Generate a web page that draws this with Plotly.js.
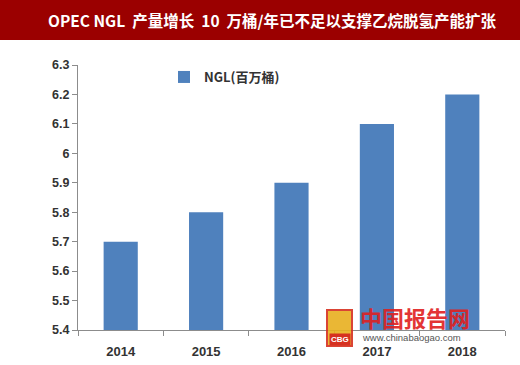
<!DOCTYPE html>
<html><head><meta charset="utf-8">
<script src="https://cdn.plot.ly/plotly-3.0.1.min.js"></script>
<style>body{margin:0;padding:0;background:#fff}#c{width:520px;height:365px}</style>
</head><body><div id="c"></div>
<script>
const years = ['2014','2015','2016','2017','2018'];
const ngl = [5.7, 5.8, 5.9, 6.1, 6.2];
const yTicks = [5.4,5.5,5.6,5.7,5.8,5.9,6,6.1,6.2,6.3];
const seriesName = 'NGL(百万桶)';
const titleText = 'OPEC NGL  产量增长  10  万桶/年已不足以支撑乙烷脱氢产能扩张';

const L=78, R=15, T=65, B=35, W=520, H=365;
const pw=W-L-R, ph=H-T-B;
const px = x => (x-L)/pw;
const py = y => (H-B-y)/ph;

const trace = {
  type:'bar', x:years, y:ngl, name:seriesName, width:0.4,
  marker:{color:'#4f81bd'}, showlegend:true
};
const layout = {
  width:W, height:H, margin:{l:L,r:R,t:T,b:B},
  paper_bgcolor:'#fff', plot_bgcolor:'#fff',
  font:{family:'"Noto Sans CJK SC", "Noto Sans", sans-serif', color:'#404040'},
  xaxis:{type:'category', showline:true, linecolor:'#8c8c8c', linewidth:1,
    ticks:'outside', tickson:'boundaries', ticklen:5, tickcolor:'#8c8c8c', ticklabelstandoff:9,
    tickfont:{size:13, family:'"Liberation Sans", Arial, sans-serif', color:'#333', weight:'bold'},
    showgrid:false, zeroline:false},
  yaxis:{range:[5.4,6.3], tickvals:yTicks, ticktext:yTicks.map(v=>String(v)),
    showline:true, linecolor:'#8c8c8c', linewidth:1, ticks:'outside', ticklen:5, tickcolor:'#8c8c8c',
    tickfont:{size:12.5, family:'"Liberation Sans", Arial, sans-serif', color:'#333', weight:'bold'},
    showgrid:false, zeroline:false},
  legend:{x:px(164), y:py(62), xanchor:'left', yanchor:'top', bgcolor:'rgba(0,0,0,0)',
    font:{size:13, color:'#333', family:'"Noto Sans CJK SC", sans-serif', weight:'bold'}, itemwidth:30},
  shapes:[
    {type:'rect', xref:'paper', yref:'paper', x0:px(0), x1:px(W), y0:py(40), y1:py(0),
     fillcolor:'#9b0000', line:{width:0}, layer:'below'},
    {type:'rect', xref:'paper', yref:'paper', x0:px(327), x1:px(352), y0:py(346), y1:py(310),
     fillcolor:'#e8b020', line:{color:'#d63020', width:2}, layer:'above', opacity:0.9}
  ],
  annotations:[
    {xref:'paper', yref:'paper', x:px(272), y:py(20), text:'<b>'+titleText+'</b>', showarrow:false,
     font:{size:15.5, color:'#fff', family:'"Noto Sans CJK SC", sans-serif'}, xanchor:'center', yanchor:'middle'},
    {xref:'paper', yref:'paper', x:px(358), y:py(317), text:'<b>中国报告网</b>', showarrow:false,
     font:{size:22, color:'#e02020', family:'"Noto Sans CJK SC", sans-serif'}, xanchor:'left', yanchor:'middle', opacity:0.9},
    {xref:'paper', yref:'paper', x:px(360), y:py(337), text:'www.chinabaogao.com', showarrow:false,
     font:{size:9.5, color:'#555', family:'"Liberation Sans", Arial, sans-serif'}, xanchor:'left', yanchor:'middle'},
    {xref:'paper', yref:'paper', x:px(339.5), y:py(339), text:'<b>CBG</b>', showarrow:false, bgcolor:'#d63020',
     font:{size:8, color:'#fff', family:'"Liberation Sans", Arial, sans-serif'}, xanchor:'center', yanchor:'middle'}
  ]
};
Plotly.newPlot('c',[trace],layout,{displayModeBar:false,staticPlot:true});
</script></body></html>
